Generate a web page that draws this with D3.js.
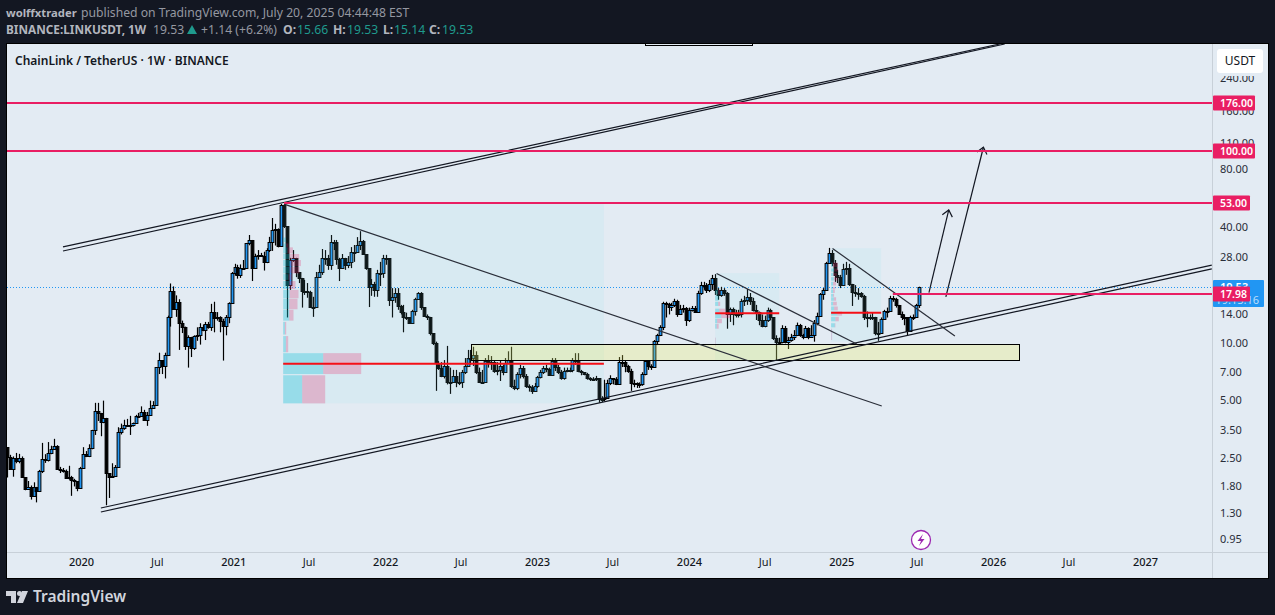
<!DOCTYPE html>
<html>
<head>
<meta charset="utf-8">
<script src="https://cdn.jsdelivr.net/npm/d3@7"></script>
<style>
  html, body { margin: 0; padding: 0; background: #131722; overflow: hidden; }
  svg { display: block; font-family: "Noto Sans", sans-serif; }
</style>
</head>
<body>
<svg id="chart" width="1275" height="615"></svg>
<script>
// weekly candles, one entry per week starting at firstWeek. open = previous close
var firstWeek = Date.UTC(2019, 6, 8);
var firstOpen = 2.85;

var closes = [
  2.53,2.2,2.5,2.4,2.5,2.0,1.72,1.77,1.59,1.77,
  1.68,2.15,2.48,2.44,2.66,2.78,2.9,2.2,2.17,2.14,
  1.98,2.0,1.93,1.91,1.74,2.23,2.62,2.55,2.83,3.51,
  4.42,4.3,3.85,4.05,2.09,1.99,2.01,2.25,3.4,3.58,
  3.72,3.72,3.72,3.8,4.12,4.15,4.35,3.96,4.2,4.55,
  4.75,7.45,8.15,7.55,8.6,13.6,18.6,15.0,16.2,12.7,
  12.0,9.6,10.7,9.35,10.8,10.95,12.1,11.6,12.5,12.0,
  14.4,13.4,13.6,13.0,12.2,13.6,16.1,23,24.7,22.5,
  24.3,24.3,32.8,34,24.5,28.3,28.4,28.2,26.3,30.3,
  33.5,38.5,38.8,31.7,52,40.2,19.9,26.9,27.6,23.3,
  21.7,18.6,18.6,18.3,15.3,15.3,21.9,23.3,27.6,27.6,
  25.4,33.4,33.4,27.2,24.4,27.6,25.4,26.3,29.6,29.6,
  32.2,33.8,28.9,24.4,19.5,20.2,18.8,23,23,27.6,
  27.6,16.7,17.3,18.1,15.5,14.5,13.6,13.5,12.7,14.6,
  16.9,18.1,15.3,13.8,13.5,11.2,9.9,7.8,7.4,6.7,
  7.55,6.2,6.2,6.7,6.2,6.2,7,7.55,8.3,8.3,
  8.6,7,6.2,6.2,8,7.9,7.9,7.1,7.2,7.55,
  7,7.8,8.1,5.95,5.8,6.85,7.4,6.7,5.95,5.85,
  5.6,5.95,6.6,7,7.4,7.3,6.75,8,7.45,7,
  6.5,7.1,7.2,7.2,8.1,8.1,7.1,7,6.85,6.5,
  6.45,6.45,6.5,5.1,5.1,5.15,6.15,6.5,6.45,6.05,
  7.9,7.9,7.55,7.1,6.15,6.15,6.05,6.05,6.85,8,
  7.55,7.45,10.2,10.9,12,16.1,15.9,15.3,15.7,16.5,
  14,15,15.2,13.1,14.8,15.2,14.5,18.1,19.9,19.9,
  18.8,20.2,21.7,18.8,17.7,18.8,18.1,14,15,14,
  14,14,16.5,16.7,17.3,16.5,14.8,14.5,13.1,12.2,
  13.1,14.8,13.5,10.6,10.1,10.1,11.9,10.1,10.3,10.7,
  10.9,12.3,10.9,10.7,11.9,10.7,10.9,12.7,13.8,17.9,
  18.8,26,29.3,26,22.5,21.9,19.9,24.2,24.4,20.2,
  18.3,18.1,18.1,17.5,13.6,13.5,13.5,13.5,11.2,11.2,
  13.3,14.6,14.6,17.1,16.9,15.7,14.1,13.6,13.5,11.5,
  13.6,13.5,15.66,19.53
];

var highs = [
  2.85,2.6,2.55,2.66,2.63,2.55,1.99,1.9,1.8,1.87,
  1.77,2.17,3.0,2.62,3.03,2.9,3.15,2.92,2.25,2.22,
  2.18,2.28,2.02,1.95,1.9,2.25,2.85,2.72,2.95,3.51,
  4.85,4.85,4.3,4.98,4.05,2.09,2.35,2.3,3.62,3.78,
  3.96,4.0,4.15,3.83,4.2,4.3,4.65,4.46,4.35,4.98,
  4.95,7.45,8.85,8.1,8.85,13.8,20.3,19.6,17.6,16.8,
  13,12.1,10.9,10.7,10.9,12,12.6,12.4,12.8,12.8,
  15.9,16.3,14.4,13.7,13.3,13.9,16.2,23.3,25.7,25.4,
  25.5,26.9,33,36.3,34.2,29,30.3,29.3,29.7,31,
  35.5,44.5,41.5,39.3,52.7,52.7,40.2,27.6,30.3,27.6,
  23.3,21.7,21.2,20.4,18.6,17.3,23.3,25.4,30.7,30.3,
  28.6,36.3,34.2,34.2,27.6,28.9,27.6,28.2,31.4,32.2,
  35.4,38,34.2,28.9,24.4,21.4,20.7,23.9,26.3,28.6,
  28.6,25.7,19.2,19.2,19.2,15.7,15.7,14.3,13.5,14.8,
  17.1,18.3,18.3,15.3,14,13.6,11.2,10.1,8,7.9,
  8.1,9.6,7.4,7.2,7.2,7,7.2,8.3,9.15,9.15,
  9.5,9,7.4,7.2,8.3,8.6,8.5,8.1,7.9,8.1,
  7.65,8.3,9,9.5,6.4,7,7.65,7.55,6.85,6.05,
  6,6.15,6.7,7.2,7.55,7.65,7.4,8.3,8.3,7.65,
  7.2,7.4,7.4,7.4,8.3,8.8,8.8,7.2,7,6.95,
  6.6,6.6,6.7,6.5,5.25,6.4,6.4,6.75,6.5,6.6,
  8.4,8.6,8.1,7.65,7.3,6.4,6.2,6.2,7,8.1,
  8,7.7,10.3,11.1,12.3,16.3,16.3,16.1,16.1,16.9,
  16.7,15.7,15.7,15.3,15.2,15.5,15.5,18.6,20.7,20.7,
  20.4,21.2,22.5,22.7,19.2,19.5,19.2,18.3,15.2,15.2,
  14.8,14.8,16.9,17.5,19,18.1,17.1,15.7,14.5,14,
  13.8,15.2,15,13.5,10.9,10.6,12.3,12.2,10.7,11.1,
  11.6,12.7,12.5,11.1,12.2,12,12.3,13.1,14.3,18.1,
  19.2,26.3,31.1,30.3,26.9,23.9,22.5,25.7,26.3,25.7,
  20.2,19.9,19.2,18.3,17.7,14.5,14,14.3,13.6,12.8,
  13.5,14.8,15.2,17.5,17.5,17.1,15.7,14.5,14,13.5,
  13.8,14,15.9,19.53
];

var lows = [
  1.98,2.18,2.0,2.35,2.35,1.97,1.7,1.72,1.52,1.59,
  1.47,1.67,2.09,2.36,2.4,2.62,2.76,2.17,2.09,2.1,
  1.96,1.93,1.59,1.78,1.68,1.73,2.2,2.53,2.53,2.78,
  3.3,3.9,3.25,3.8,1.42,1.55,1.99,2.01,2.25,3.32,
  3.51,3.65,3.3,3.65,3.8,4.05,4.12,3.9,3.68,4.15,
  4.55,4.72,6.85,6.85,6.5,8.5,12.1,14.8,13.6,9.15,
  11.2,9.15,7.4,8.4,9.15,10.2,9.75,11.45,10.3,11.8,
  11.5,11.3,13,11.3,8.05,10.9,12.6,16,22.3,21.5,
  21.7,24.3,24.3,32.1,20.9,24.3,27,28,23.7,25.9,
  29.6,30,32,31.3,31.5,39.5,13.5,18.8,26.3,21.9,
  20.4,15.2,17.7,17.1,15.2,13.6,16.3,21.7,22.5,25.4,
  23.9,23.9,30.3,25.4,20.9,24.4,23.9,24.4,24.4,26.3,
  29.6,30.3,28.9,23.9,15.3,17.5,17.3,17.3,19.7,21.7,
  25.4,15.5,13.5,16.1,14.8,14,11.3,13.1,12.7,12.7,
  13.8,16.7,14.8,13.6,13.1,10.9,9.7,5.6,7.2,6.6,
  6.5,6.05,5.4,6.2,5.85,6,5.8,6.85,7.45,7.65,
  7.55,6.85,6.15,6.15,7.2,7.4,7.2,6.95,6.75,6.3,
  6.75,7,7.8,5.8,5.65,5.65,6.5,6.5,5.8,5.55,
  5.4,5.55,5.8,6.5,6.85,7,6.7,6.7,7.1,6.85,
  6.4,6.4,7,7,7,7.65,7,6.75,6.75,6.4,
  6.3,6.3,6.3,4.85,4.9,4.95,5.1,6,6.05,6,
  6.05,7.45,7,6.95,5.6,5.85,5.8,5.8,5.95,6.75,
  7.2,7.2,7.4,9.7,10.8,11.6,13.5,14,14.6,15.3,
  13.6,14,14.3,12.2,12.8,14.5,14.3,14.3,17.7,18.8,
  18.1,18.3,18.8,17.7,16.7,17.3,17.5,11.8,12.8,12.3,
  13.5,13.5,13.5,15.5,15.7,15.7,14.5,13.1,12.3,12,
  12,12.8,13.1,10.3,8.1,9.8,9.9,9.9,9.25,10.1,
  10.3,10.8,10.7,10.4,10.6,10.4,10.6,10.1,12.3,13.6,
  16.7,18.8,25.7,25,20.7,20.4,19.2,19.7,22.5,19.7,
  15.5,17.3,16.7,17.1,13.1,12,13.1,13.1,10.9,10.2,
  11.2,13.1,13.5,14.5,16.3,15.2,14,13.1,12.3,10.9,
  11.5,13.1,13.5,15.14
];

// price axis and time axis
var priceTicks = [240, 160, 110, 80, 54, 40, 28, 20, 14, 10, 7, 5, 3.5, 2.5, 1.8, 1.3, 0.95];
var timeTicks = [
  [2020,0], [2020,6], [2021,0], [2021,6], [2022,0], [2022,6], [2023,0], [2023,6],
  [2024,0], [2024,6], [2025,0], [2025,6], [2026,0], [2026,6], [2027,0]
];

// horizontal levels: price, first bar
var levelPrices = [176, 100, 53, 17.98];
var levelStarts = [-5, -5, 95, 304];

// drawings, as [bar, price, bar, price]
var doubleLines = [
  [19.1, 31.5, 340.7, 358.6],
  [19.1, 29.97, 342.4, 358.6],
  [32.1, 1.374, 413.5, 25.3],
  [32.1, 1.31, 413.5, 24.2]
];
var trendLines = [
  [95, 52.6, 300.2, 4.67],
  [243.5, 22.9, 291.6, 9.83],
  [283.3, 30.9, 325.3, 10.8]
];
var arrows = [
  [316.4, 18.2, 323.2, 49],
  [322.2, 17.3, 335.1, 104]
];

// range boxes and the point of control of each: bar, bar, top price, bottom price, poc price
var rangeBoxes = [
  [94.7, 204.8, 52.6, 4.82, 7.75],
  [243, 265, 23, 8.1, 14.2],
  [282.8, 300, 31, 10.1, 14.3]
];
// yellow zone and the box cut by the top edge
var zone = [159.2, 347.5, 9.8, 8.1];
var topBox = [219, 255.6, 500, 352];

// volume profile rows: top price, bottom price
var vpTops = [
  35.2,32.8,31.3,28.9,26.9,24.8,22.7,20.9,18.8,16.9,14.8,12.8,10.8,8.8,6.75,
  18.8,17.6,16.3,15,14.2,13.3,12.5,10.6,
  26.1,24.3,23,21.9,20.7,19.5,18.8,17.9,17.2,16.3,15.4,14.5,13.6,12.6,11.8
];
var vpBottoms = [
  33.3,31.3,29.1,27.2,25,22.9,21.2,19,17,14.9,13,11,8.9,6.85,4.82,
  17.8,16.5,15.5,14.4,13.4,12.6,11.8,9.55,
  24.7,23.4,22.2,21,19.8,18.9,18.1,17.3,16.5,15.6,14.7,13.8,12.9,12,10.3
];
var vpBuy = [
  2.7,3,4.3,6.3,7,6.3,5.3,6,6.3,6,6,1.7,2.7,40,19,
  3,3.5,3,4,6,2,1.5,0.2,
  1.7,3,2.3,2.7,2,1.7,2,2,2.7,2,3,6,4.3,3.7,0.3
];
var vpTotal = [
  2.7,5.3,9.7,16,17.7,16.3,9,12.3,15.3,14.3,10.3,3,5,78,42,
  5,3.5,5,10,15,6.7,3.5,0.7,
  6.7,7,5.7,6.3,5,4.3,3.7,3,5,5.7,6.7,11,7.7,4.3,1
];
var vpBox = [
  0,0,0,0,0,0,0,0,0,0,0,0,0,0,0,
  1,1,1,1,1,1,1,1,
  2,2,2,2,2,2,2,2,2,2,2,2,2,2,2
];

var WEEK = 7 * 24 * 3600 * 1000;
var plotLeft = 7, plotRight = 1212, plotTop = 44, plotBottom = 552, panelRight = 1268, panelBottom = 578;
var bg = '#e3ebf3', pink = '#e91e63', blue = '#2196f3';

var x = d3.scaleUtc().domain([Date.UTC(2020,0,1), Date.UTC(2027,0,1)]).range([81, 1145]);
var y = d3.scaleLog().domain([1, 100]).range([534.5, 150.5]);
var volumeX = d3.scaleLinear().domain([0, 78]).range([0, 78]);

function barX(i) { return x(firstWeek + i * WEEK); }

var svg = d3.select('#chart');

// header
var head = svg.append('g').attr('font-size', 12.2).attr('fill', '#9598a1');
head.append('text').attr('x', 6).attr('y', 17).attr('font-size', 11.3).attr('font-weight', 700).attr('fill', '#b2b5be').text('wolffxtrader');
head.append('text').attr('x', 81).attr('y', 17).text('published on TradingView.com, July 20, 2025 04:44:48 EST');

head.append('text').attr('x', 6).attr('y', 34).attr('font-size', 11.8).attr('font-weight', 700).attr('fill', '#b2b5be').text('BINANCE:LINKUSDT, 1W');
head.append('text').attr('x', 153).attr('y', 34).text('19.53');
head.append('path').attr('d', 'M187,34L192,25L197,34Z').attr('fill', '#1f9a8d');
head.append('text').attr('x', 201).attr('y', 34).text('+1.14 (+6.2%)');
[['O:', 283, '15.66', 297], ['H:', 333, '19.53', 347], ['L:', 383, '15.14', 394], ['C:', 429, '19.53', 442]].forEach(function(d) {
  head.append('text').attr('x', d[1]).attr('y', 34).attr('font-weight', 700).attr('fill', '#b2b5be').text(d[0]);
  head.append('text').attr('x', d[3]).attr('y', 34).attr('fill', '#1f9a8d').text(d[2]);
});

// panel
svg.append('rect').attr('x', plotLeft - 0.5).attr('y', plotTop - 0.5)
  .attr('width', panelRight - plotLeft + 1).attr('height', panelBottom - plotTop + 1)
  .attr('fill', bg).attr('stroke', '#000');

svg.append('defs').append('clipPath').attr('id', 'plot').append('rect')
  .attr('x', plotLeft).attr('y', plotTop).attr('width', plotRight - plotLeft).attr('height', plotBottom - plotTop);

var plot = svg.append('g').attr('clip-path', 'url(#plot)');

// last price line
plot.append('line').attr('x1', plotLeft).attr('x2', plotRight)
  .attr('y1', Math.round(y(19.53)) + 0.5).attr('y2', Math.round(y(19.53)) + 0.5)
  .attr('stroke', blue).attr('stroke-dasharray', '1 2');

// candles
var candles = plot.append('g');
closes.forEach(function(c, i) {
  var o = i ? closes[i - 1] : firstOpen;
  var cx = Math.round(barX(i));
  candles.append('line').attr('x1', cx + 0.5).attr('x2', cx + 0.5)
    .attr('y1', y(highs[i])).attr('y2', y(lows[i])).attr('stroke', '#000').attr('stroke-width', 1.2);
  var top = Math.round(y(Math.max(o, c))), bottom = Math.round(y(Math.min(o, c)));
  candles.append('rect').attr('x', cx - 0.9).attr('y', top + 0.5)
    .attr('width', 2.8).attr('height', Math.max(bottom - top, 1))
    .attr('fill', c >= o ? blue : '#000').attr('stroke', '#000');
});

// range boxes
plot.selectAll('.range').data(rangeBoxes).enter().append('rect')
  .attr('x', function(d) { return barX(d[0]); })
  .attr('width', function(d) { return barX(d[1]) - barX(d[0]); })
  .attr('y', function(d) { return y(d[2]); })
  .attr('height', function(d) { return y(d[3]) - y(d[2]); })
  .attr('fill', 'rgba(128,222,234,0.1)');

// volume profile
vpTops.forEach(function(t, i) {
  var left = barX(rangeBoxes[vpBox[i]][0]);
  plot.append('rect').attr('x', left).attr('y', y(t))
    .attr('width', volumeX(vpBuy[i])).attr('height', y(vpBottoms[i]) - y(t))
    .attr('fill', 'rgba(0,188,212,0.3)');
  plot.append('rect').attr('x', left + volumeX(vpBuy[i])).attr('y', y(t))
    .attr('width', volumeX(vpTotal[i] - vpBuy[i])).attr('height', y(vpBottoms[i]) - y(t))
    .attr('fill', 'rgba(233,30,99,0.25)');
});

// point of control
plot.selectAll('.poc').data(rangeBoxes).enter().append('line')
  .attr('x1', function(d) { return barX(d[0]); })
  .attr('x2', function(d) { return barX(d[1]); })
  .attr('y1', function(d) { return y(d[4]); })
  .attr('y2', function(d) { return y(d[4]); })
  .attr('stroke', '#f50f17').attr('stroke-width', 2);

// zone and cut box
[zone, topBox].forEach(function(d, i) {
  plot.append('rect')
    .attr('x', Math.round(barX(d[0])) + 0.5).attr('y', Math.round(y(d[2])) + 0.5)
    .attr('width', Math.round(barX(d[1]) - barX(d[0])))
    .attr('height', Math.round(y(d[3]) - y(d[2])))
    .attr('fill', i ? 'none' : 'rgba(240,240,80,0.25)').attr('stroke', '#000');
});

// double channel lines, trend lines, arrows
function drawLine(d, color, w) {
  plot.append('line').attr('x1', barX(d[0])).attr('y1', y(d[1]))
    .attr('x2', barX(d[2])).attr('y2', y(d[3]))
    .attr('stroke', color).attr('stroke-width', w);
}
doubleLines.forEach(function(d) { drawLine(d, '#131722', 1.2); });
trendLines.forEach(function(d) { drawLine(d, '#2a2e39', 1.2); });
arrows.forEach(function(d) {
  drawLine(d, '#131722', 1.2);
  var tx = barX(d[2]), ty = y(d[3]);
  var a = Math.atan2(y(d[1]) - ty, barX(d[0]) - tx);
  var arms = [a - 0.7, a + 0.7].map(function(b) { return [tx + 8 * Math.cos(b), ty + 8 * Math.sin(b)]; });
  plot.append('path')
    .attr('d', 'M' + arms[0] + 'L' + tx + ',' + ty + 'L' + arms[1])
    .attr('fill', 'none').attr('stroke', '#131722').attr('stroke-width', 1.2);
});

// levels
levelPrices.forEach(function(p, i) {
  var ly = Math.round(y(p));
  plot.append('line').attr('x1', Math.max(barX(levelStarts[i]), plotLeft)).attr('x2', plotRight)
    .attr('y1', ly).attr('y2', ly).attr('stroke', pink).attr('stroke-width', 2);
});

// title
svg.append('text').attr('x', 15).attr('y', 64.5).attr('font-size', 12).attr('font-weight', 600)
  .attr('fill', '#131722').text('ChainLink / TetherUS \u00b7 1W \u00b7 BINANCE');

// axis borders
svg.append('line').attr('x1', plotRight + 0.5).attr('x2', plotRight + 0.5).attr('y1', plotTop).attr('y2', panelBottom).attr('stroke', '#c8d0d8');
svg.append('line').attr('x1', plotLeft).attr('x2', panelRight).attr('y1', plotBottom + 0.5).attr('y2', plotBottom + 0.5).attr('stroke', '#c8d0d8');

// price axis
var priceAxis = svg.append('g').attr('transform', 'translate(1212,0)')
  .call(d3.axisRight(y).tickValues(priceTicks).tickSize(0).tickPadding(8).tickFormat(d3.format('.2f')));
priceAxis.select('.domain').remove();
priceAxis.selectAll('text').attr('font-size', 11).attr('font-family', '"Noto Sans", sans-serif').attr('fill', '#2a2e39');

// time axis
var timeAxis = svg.append('g').attr('transform', 'translate(0,552)')
  .call(d3.axisBottom(x).tickValues(timeTicks.map(function(t) { return new Date(Date.UTC(t[0], t[1], 1)); }))
    .tickSize(0).tickPadding(6).tickFormat(function(d) {
      return d.getUTCMonth() === 0 ? d.getUTCFullYear() : 'Jul';
    }));
timeAxis.select('.domain').remove();
timeAxis.selectAll('text').attr('font-size', 11).attr('font-family', '"Noto Sans", sans-serif')
  .attr('fill', '#131722').attr('font-weight', function(d) { return d.getUTCMonth() === 0 ? 500 : 400; });

// USDT button, with the panel colour around it hiding the top tick
svg.append('rect').attr('x', 1214).attr('y', 45).attr('width', 53).attr('height', 31).attr('fill', bg);
svg.append('rect').attr('x', 1217).attr('y', 49).attr('width', 46).attr('height', 24).attr('rx', 3).attr('fill', '#fff');
svg.append('text').attr('x', 1240).attr('y', 65).attr('text-anchor', 'middle').attr('font-size', 12).attr('fill', '#131722').text('USDT');

// last price tag
svg.append('rect').attr('x', 1213).attr('y', 280).attr('width', 51).attr('height', 27).attr('rx', 1).attr('fill', blue);
svg.append('text').attr('x', 1220).attr('y', 291).attr('font-size', 11).attr('font-weight', 600).attr('fill', '#fff').text('19.53');
svg.append('text').attr('x', 1259).attr('y', 304).attr('text-anchor', 'end').attr('font-size', 11).attr('fill', '#bbdefb').text('19:15:16');

// level tags
levelPrices.forEach(function(p, i) {
  var ly = Math.round(y(p));
  var w = p >= 100 ? 42 : 37;
  svg.append('rect').attr('x', 1213).attr('y', ly - 7.5).attr('width', w).attr('height', 15).attr('rx', 1).attr('fill', pink);
  svg.append('text').attr('x', 1220).attr('y', ly + 4).attr('font-size', 10.5).attr('font-weight', 600).attr('fill', '#fff').text(p.toFixed(2));
});

// lightning mark
svg.append('circle').attr('cx', 921).attr('cy', 540).attr('r', 9.5).attr('fill', '#fff').attr('stroke', '#9c27b0').attr('stroke-width', 1.3);
svg.append('path').attr('d', 'M923,534L917.5,541H921L919,546L924.5,539H921Z').attr('fill', '#9c27b0');

// logo
var logo = svg.append('g').attr('fill', '#d1d4dc');
logo.append('path').attr('d', 'M6,591H16V603H11V596H6ZM28,591H22L17,603H23Z');
logo.append('circle').attr('cx', 19.5).attr('cy', 593.5).attr('r', 2.5);
logo.append('text').attr('x', 33).attr('y', 602).attr('font-size', 15.5).attr('font-weight', 600).text('TradingView');
</script>
</body>
</html>
